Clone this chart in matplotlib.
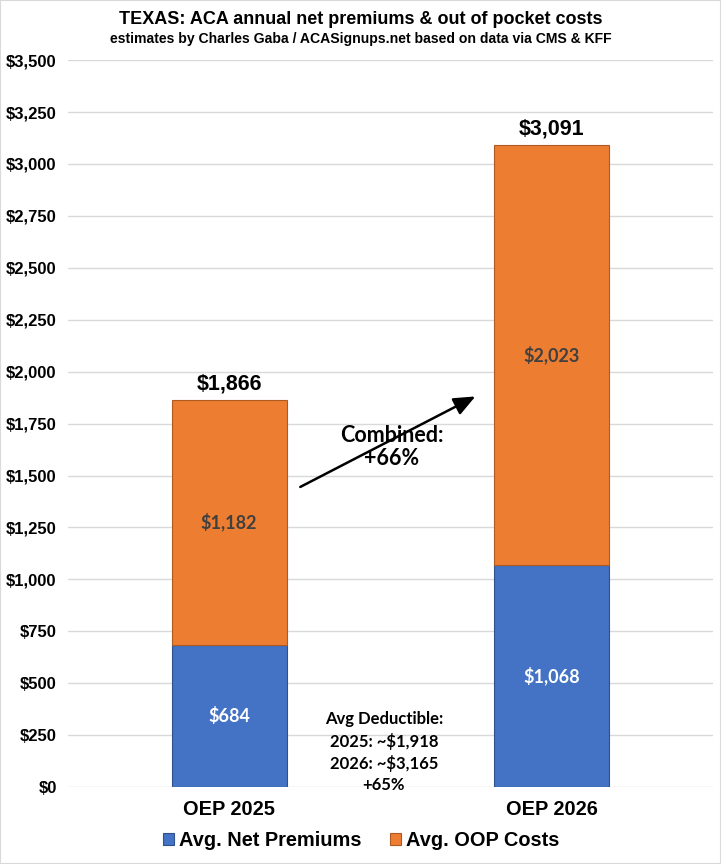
import matplotlib.pyplot as plt
import numpy as np

categories = ['OEP 2025', 'OEP 2026']
net_premiums = [684, 1068]
oop_costs = [1182, 2023]
totals = [1866, 3091]
yticks = list(range(0, 3501, 250))

blue = '#4472C4'
orange = '#ED7D31'

fig = plt.figure(figsize=(7.21, 8.64), dpi=100)
ax = fig.add_axes([0.094, 0.089, 0.895, 0.8414])

x = np.arange(len(categories))
w = 0.356
ax.bar(x, net_premiums, w, color=blue, edgecolor='#2F528F', linewidth=0.8,
       label='Avg. Net Premiums', zorder=3)
ax.bar(x, oop_costs, w, bottom=net_premiums, color=orange, edgecolor='#AE5A21',
       linewidth=0.8, label='Avg. OOP Costs', zorder=3)

lab_font = 'Lato'
for i in range(len(categories)):
    ax.text(x[i], net_premiums[i] / 2, f'${net_premiums[i]:,}', ha='center', va='center',
            color='white', fontsize=13, fontweight='bold', family=lab_font, zorder=4)
    ax.text(x[i], net_premiums[i] + oop_costs[i] / 2, f'${oop_costs[i]:,}', ha='center',
            va='center', color='#404040', fontsize=13, fontweight='bold', family=lab_font, zorder=4)
    ax.text(x[i], totals[i] + 25, f'${totals[i]:,}', ha='center', va='bottom',
            fontsize=15.5, fontweight='bold', family='Liberation Sans', zorder=4)

ax.set_xlim(-0.5, 1.5)
ax.set_ylim(0, 3500)
ax.set_yticks(yticks)
ax.set_yticklabels([f'${v:,}' for v in yticks], fontsize=12, fontweight='bold',
                   family='Liberation Sans')
ax.set_xticks(x)
ax.set_xticklabels(categories, fontsize=14.4, fontweight='bold', family='Liberation Sans')
ax.tick_params(length=0)
ax.tick_params(axis='y', pad=8)
ax.tick_params(axis='x', pad=9)
ax.grid(axis='y', color='#D9D9D9', linewidth=1, zorder=0)
for s in ax.spines.values():
    s.set_visible(False)

# arrow + combined change
ax.annotate('', xy=(0.771, 1887), xytext=(0.213, 1439),
            arrowprops=dict(arrowstyle='-|>,head_length=1.3,head_width=0.55',
                            color='black', lw=1.8), zorder=2)
ax.text(0.505, 1637, 'Combined:\n+66%', ha='center', va='center', fontsize=15.5,
        fontweight='bold', family=lab_font, linespacing=1.15, zorder=5)

ax.text(0.48, 168, 'Avg Deductible:\n2025: ~$1,918\n2026: ~$3,165\n+65%', ha='center',
        va='center', fontsize=12, fontweight='bold', family=lab_font, linespacing=1.4, zorder=5)

fig.text(0.5, 0.978, 'TEXAS: ACA annual net premiums & out of pocket costs', ha='center',
         va='center', fontsize=13, fontweight='bold', family='Liberation Sans')
fig.text(0.5, 0.955, 'estimates by Charles Gaba / ACASignups.net based on data via CMS & KFF',
         ha='center', va='center', fontsize=10.1, fontweight='bold', family='Liberation Sans')

ax.legend(loc='center', bbox_to_anchor=(0.455, -0.073), ncol=2, frameon=False,
          prop={'family': 'Liberation Sans', 'size': 14.4, 'weight': 'bold'},
          handlelength=0.55, handleheight=0.55, handletextpad=0.25, columnspacing=1.4)

fig.patches.append(plt.Rectangle((0, 0), 1, 1, transform=fig.transFigure, fill=False,
                                 edgecolor='#D9D9D9', linewidth=1.5))

fig.savefig('out.png', dpi=100)
